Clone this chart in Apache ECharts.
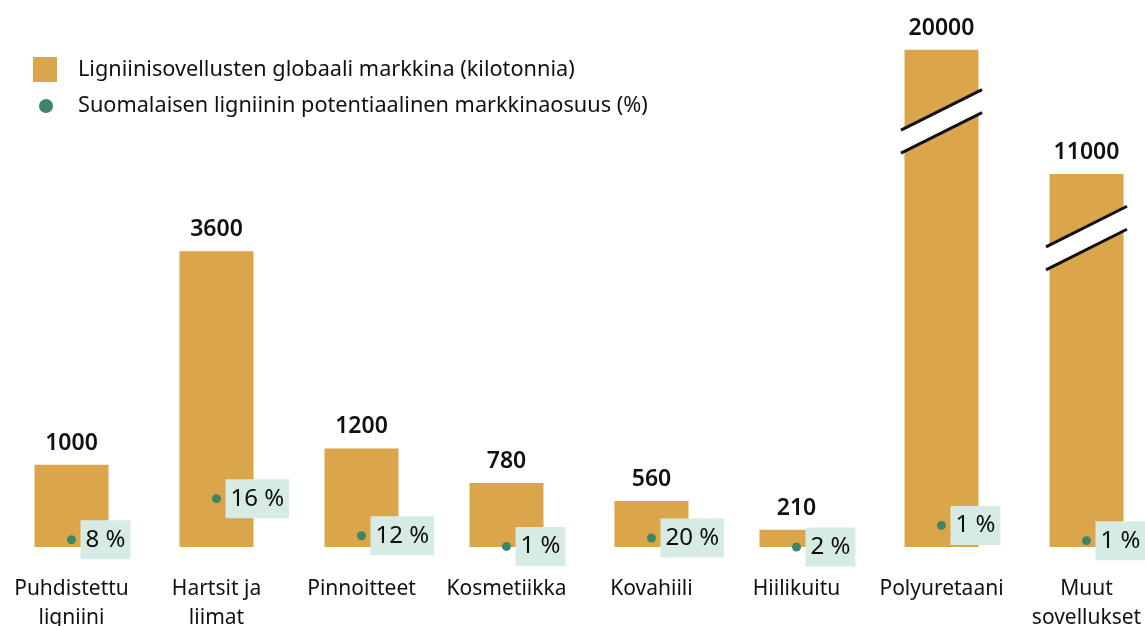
<!DOCTYPE html>
<html>
<head>
<meta charset="utf-8">
<script src="https://cdn.jsdelivr.net/npm/echarts@6/dist/echarts.min.js"></script>
<style>
html,body{margin:0;padding:0;background:#fff;}
#main{width:1145px;height:626px;}
</style>
</head>
<body>
<div id="main"></div>
<script>
// kategoriat
var categories = ['Puhdistettu\nligniini', 'Hartsit ja\nliimat', 'Pinnoitteet', 'Kosmetiikka',
	'Kovahiili', 'Hiilikuitu', 'Polyuretaani', 'Muut\nsovellukset'];
// globaali markkina (kilotonnia)
var marketValues = [1000, 3600, 1200, 780, 560, 210, 20000, 11000];
// katkaistut pylväät: katkon alku ja loppu (kilotonnia)
var breakStart = [null, null, null, null, null, null, 5180, 3760];
var breakEnd = [null, null, null, null, null, null, 19130, 10220];
// markkinaosuus (%)
var sharePct = [8, 16, 12, 1, 20, 2, 1, 1];
// pisteen korkeus pylväässä (kilotonnia-akselilla)
var shareMarkerY = [89, 588, 137, 7, 109, 0, 263, 77];

var barName = 'Ligniinisovellusten globaali markkina (kilotonnia)';
var dotName = 'Suomalaisen ligniinin potentiaalinen markkinaosuus (%)';
var textColor = '#111';
var font = '"Noto Sans", "Open Sans", sans-serif';

var shownValues = [];
var breakData = [];
for (var i = 0; i < marketValues.length; i++) {
	if (breakStart[i] != null) {
		shownValues.push(marketValues[i] - (breakEnd[i] - breakStart[i]));
		breakData.push([i, breakStart[i]]);
	} else {
		shownValues.push(marketValues[i]);
	}
}
var dotData = [];
for (var j = 0; j < sharePct.length; j++) {
	dotData.push([j, shareMarkerY[j], sharePct[j]]);
}

var myChart = echarts.init(document.getElementById('main'));
var option = {
	animation: false,
	textStyle: { fontFamily: font },
	legend: [{
		left: 33, top: 57, padding: 0, orient: 'vertical',
		selectedMode: false,
		itemWidth: 24, itemHeight: 25,
		data: [{ name: barName, icon: 'rect' }],
		textStyle: { fontSize: 21.7, color: textColor, lineHeight: 24, padding: [0, 0, 0, 16], fontFamily: font }
	}, {
		left: 39, top: 94, padding: 0, orient: 'vertical',
		selectedMode: false,
		itemWidth: 14, itemHeight: 14,
		data: [{ name: dotName, icon: 'circle' }],
		textStyle: { fontSize: 21.7, color: textColor, lineHeight: 24, padding: [0, 0, 0, 20], fontFamily: font }
	}],
	grid: { left: -1, right: -14, top: 40, bottom: 79, outerBoundsMode: 'none' },
	xAxis: {
		type: 'category',
		data: categories,
		axisLine: { show: false },
		axisTick: { show: false },
		axisLabel: {
			interval: 0, margin: 28, color: textColor,
			fontSize: 21, lineHeight: 29, fontFamily: font
		}
	},
	yAxis: {
		type: 'value', min: 0, max: 6170, show: false,
		splitLine: { show: false }
	},
	series: [{
		name: barName,
		type: 'bar',
		barWidth: 74,
		data: shownValues,
		itemStyle: { color: '#dba64b' },
		label: {
			show: true, position: 'top', distance: 10,
			fontSize: 23, fontWeight: 600, color: textColor, fontFamily: font,
			formatter: function (p) { return marketValues[p.dataIndex]; }
		},
		z: 2
	}, {
		type: 'custom',
		data: breakData,
		z: 3,
		silent: true,
		renderItem: function (params, api) {
			var p = api.coord([api.value(0), api.value(1)]);
			var dx = 40.5, dy = 20.3, h = 11.5;
			return {
				type: 'group',
				children: [{
					type: 'polygon',
					shape: { points: [[p[0] - dx, p[1] - h + dy], [p[0] + dx, p[1] - h - dy],
						[p[0] + dx, p[1] + h - dy], [p[0] - dx, p[1] + h + dy]] },
					style: { fill: '#fff' }
				}, {
					type: 'line',
					shape: { x1: p[0] - dx, y1: p[1] - h + dy, x2: p[0] + dx, y2: p[1] - h - dy },
					style: { stroke: '#111', lineWidth: 3 }
				}, {
					type: 'line',
					shape: { x1: p[0] - dx, y1: p[1] + h + dy, x2: p[0] + dx, y2: p[1] + h - dy },
					style: { stroke: '#111', lineWidth: 3 }
				}]
			};
		}
	}, {
		name: dotName,
		type: 'scatter',
		data: dotData,
		symbolSize: 9,
		clip: false,
		itemStyle: { color: '#3d8567', opacity: 1 },
		z: 4,
		label: {
			show: true, position: 'right', distance: 4.5,
			backgroundColor: '#d6ebe3',
			padding: [7, 5, 8, 5],
			fontSize: 24, lineHeight: 24, color: '#0d0d0d', fontFamily: font,
			formatter: function (p) { return p.value[2] + ' %'; }
		}
	}]
};
myChart.setOption(option);
window.onresize = myChart.resize;
</script>
</body>
</html>
